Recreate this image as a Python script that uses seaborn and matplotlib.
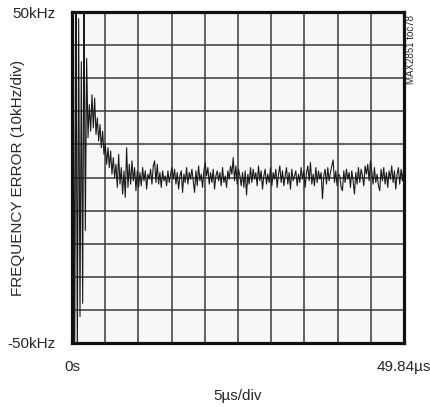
import matplotlib
matplotlib.use('Agg')
import matplotlib.pyplot as plt
import numpy as np
import pandas as pd
import seaborn as sns

# frequency error (kHz), one sample every 0.2 us
freq_error_khz = [
    -55, 55, -55, 55, -55, 48, -42, 35, -38, 55,
    -16, 36, 12, 22, 14, 25, 15, 24, 13, 18,
    11, 16, 9, 14, 7, 10, 4, 9, 3, 8,
    1, 6, 0, 4, -3, 7, -2, 3, -5, 2,
    -6, 9, -3, 4, -2, 5, -1, 3, -4, 2,
    -3,
    1.5, -2.5, 3.0, -1.0, 2.0, -3.5, 1.0, -0.5, 2.5, -2.0,
    3.5, 5.0, -1.5, 4.0, -2.0, 1.5, -3.0, 2.0, -1.0, 0.5,
    -2.5, 2.0, -1.5, 1.0, 3.0, -0.5, 2.5, -2.0, 1.5, -3.5,
    0.5, 2.0, -4.5, 1.0, -1.5, 3.0, -2.0, 1.5, -0.5, 2.5,
    -1.0, -4.5, 2.0, -2.5, 3.5, -1.0, 1.0, -3.0, 2.0, 4.5,
    0.5, 3.0, -2.0, 1.5, -1.5, 2.5, -3.5, 0.5, 2.0, -1.0,
    1.5, -2.5, 3.0, -1.5, 0.5, -3.0, 2.0, -0.5, 3.5, 1.0,
    6.0, -1.0, 3.5, -2.0, 2.5, 0.5, -2.5, 1.5, -3.0, 2.0,
    -5.3, 1.0, -2.0, 3.0, -1.5, 2.5, -0.5, 1.5, -2.5, 3.5,
    -1.0, 2.0, -3.5, 0.5, 2.5, -2.0, 1.0, -1.5, 3.0, -2.5,
    1.5, -0.5, 2.5, -3.0, 1.0, 3.5, -1.5, 2.0, -2.5, 0.5,
    3.0, -2.0, 1.5, -3.5, 2.5, -1.0, 0.5, 2.0, -2.5, 1.0,
    -1.5, 3.0, -0.5, 2.0, -3.0, 1.5, 3.5, -1.0, 4.5, -2.0,
    1.0, -2.5, 3.0, -1.5, 2.0, -0.5, 1.5, -6.4, 0.5, 2.5,
    -2.0, 3.0, -1.0, 1.5, 3.5, 5.3, -1.5, 2.0, -2.5, 1.0,
    0.5, -3.0, -4.0, 2.0, -1.5, 2.5, -0.5, 1.5, -3.0, 2.0,
    -1.0, -5.0, 1.5, -2.0, 3.0, -1.5, 2.5, 0.5, -2.5, 3.5,
    1.0, 4.0, -1.0, 5.0, 2.0, -2.0, 3.0, -1.5, 1.0, -2.5,
    -4.0, 2.5, -1.0, 3.0, -2.0, 1.5, -3.0, 2.0, -0.5, 3.5,
    -1.5, 2.0, -3.5, 1.0, 3.0, -2.0, 2.5, -1.0, 3.0,
]
sample_step_us = 0.2
t_end_us = 49.84

x_tick_labels = ['0s'] + [''] * 9 + ['49.84µs']
y_tick_labels = ['-50kHz'] + [''] * 9 + ['50kHz']

df = pd.DataFrame({
    'time': np.arange(len(freq_error_khz)) * sample_step_us,
    'ferr': freq_error_khz,
})

sns.set_style('white')
plt.rcParams['font.family'] = ['Liberation Sans', 'DejaVu Sans']

fig = plt.figure(figsize=(4.31, 4.07), dpi=100)
ax = fig.add_axes([72 / 431, 64 / 407, 332 / 431, 331 / 407])
ax.set_facecolor('#f7f7f7')

sns.lineplot(data=df, x='time', y='ferr', ax=ax, color='#1a1a1a',
             linewidth=0.8, estimator=None, zorder=3)

ax.set_xlim(0, t_end_us)
ax.set_ylim(-50, 50)
ax.set_xticks(np.linspace(0, t_end_us, 11))
ax.set_xticklabels(x_tick_labels)
ax.set_yticks(np.linspace(-50, 50, 11))
ax.set_yticklabels(y_tick_labels)
ax.tick_params(axis='x', length=0, pad=12, labelsize=11)
ax.tick_params(axis='y', length=0, pad=12, labelsize=11)
ax.grid(True, color='#3a3a3a', linewidth=1.1)
for sp in ax.spines.values():
    sp.set_color('#111111')
    sp.set_linewidth(2.3)
    sp.set_zorder(4)

ax.set_xlabel('5µs/div', fontsize=11)
ax.xaxis.set_label_coords(0.5, -0.138)
ax.set_ylabel('FREQUENCY ERROR (10kHz/div)', fontsize=11)
ax.yaxis.set_label_coords(-0.142, 0.5)

fig.text(411.5 / 431, 1 - 15 / 407, 'MAX2851 toc78', rotation=90,
         fontsize=7, ha='center', va='top')

fig.savefig('out.png', dpi=100)
